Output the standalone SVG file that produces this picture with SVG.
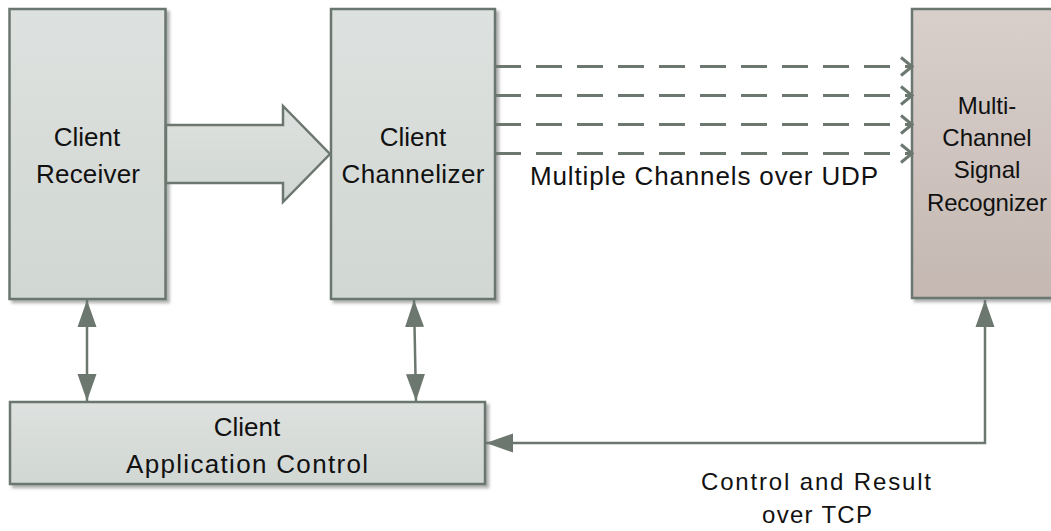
<svg xmlns="http://www.w3.org/2000/svg" width="1051" height="531" viewBox="0 0 1051 531">
  <defs>
    <linearGradient id="gClient" x1="0" y1="0" x2="0" y2="1">
      <stop offset="0" stop-color="#dde1df"/>
      <stop offset="1" stop-color="#d1d7d3"/>
    </linearGradient>
    <linearGradient id="gRecog" x1="0" y1="0" x2="0" y2="1">
      <stop offset="0" stop-color="#d8cfcb"/>
      <stop offset="1" stop-color="#c5b8b2"/>
    </linearGradient>
    <filter id="shadow" x="-10%" y="-10%" width="130%" height="130%">
      <feDropShadow dx="3" dy="3" stdDeviation="1.6" flood-color="#7a7f7c" flood-opacity="0.6"/>
    </filter>
    <marker id="tri" markerUnits="userSpaceOnUse" markerWidth="28" markerHeight="20" refX="27" refY="9.5" orient="auto-start-reverse" viewBox="0 0 28 19">
      <path d="M0,0 L27,9.5 L0,19 Z" fill="#6b776f"/>
    </marker>
    <marker id="chev" markerUnits="userSpaceOnUse" markerWidth="16" markerHeight="24" refX="12" refY="11" orient="auto" viewBox="0 0 16 22">
      <polyline points="1,2 12,11 1,20" fill="none" stroke="#6b776f" stroke-width="3"/>
    </marker>
  </defs>
  <style>
    .box { stroke: #6b776f; stroke-width: 2.5; filter: url(#shadow); }
    .client { fill: url(#gClient); }
    .recog { fill: url(#gRecog); }
    .lbl { font-family: "Liberation Sans", Arial, sans-serif; fill: #111; text-anchor: middle; }
    .dash { fill: none; stroke: #6b776f; stroke-width: 3; stroke-dasharray: 26 15; marker-end: url(#chev); }
    .conn { fill: none; stroke: #6b776f; stroke-width: 2.5; marker-start: url(#tri); marker-end: url(#tri); }
  </style>

  <g id="client-receiver">
    <rect class="box client" x="9.5" y="9" width="156" height="290"/>
    <text class="lbl" x="87" y="146" font-size="26">Client</text>
    <text class="lbl" x="88" y="183" font-size="26" textLength="104">Receiver</text>
  </g>

  <g id="client-channelizer">
    <rect class="box client" x="331" y="9" width="164" height="290"/>
    <text class="lbl" x="413" y="146" font-size="26">Client</text>
    <text class="lbl" x="413" y="183" font-size="26" textLength="143">Channelizer</text>
  </g>

  <g id="recognizer">
    <rect class="box recog" x="912" y="9" width="150" height="289"/>
    <text class="lbl" x="987" y="114" font-size="24">Multi-</text>
    <text class="lbl" x="987" y="146" font-size="24">Channel</text>
    <text class="lbl" x="987" y="178" font-size="24">Signal</text>
    <text class="lbl" x="987" y="211" font-size="24" textLength="120">Recognizer</text>
  </g>

  <g id="app-control">
    <rect class="box client" x="10" y="402" width="475" height="82"/>
    <text class="lbl" x="247" y="436" font-size="26">Client</text>
    <text class="lbl" x="247" y="473" font-size="26" textLength="242">Application Control</text>
  </g>

  <g id="connectors">
    <polygon id="fat-arrow" points="166,125 283,125 283,106 330,154 283,202 283,183 166,183" fill="url(#gClient)" stroke="#6b776f" stroke-width="2.5" stroke-linejoin="miter"/>
    <path class="dash" d="M495,66.5 H912"/>
    <path class="dash" d="M495,95.5 H912"/>
    <path class="dash" d="M495,124.5 H912"/>
    <path class="dash" d="M495,153.5 H912"/>
    <path class="conn" d="M87,300 V401"/>
    <path class="conn" d="M414,300 L416,401"/>
    <path class="conn" d="M985,300 V443 H486"/>
  </g>

  <g id="labels">
    <text class="lbl" x="704" y="185" font-size="26" textLength="348">Multiple Channels over UDP</text>
    <text class="lbl" x="816" y="490" font-size="24" textLength="230">Control and Result</text>
    <text class="lbl" x="817" y="523" font-size="24" textLength="110">over TCP</text>
  </g>
</svg>
